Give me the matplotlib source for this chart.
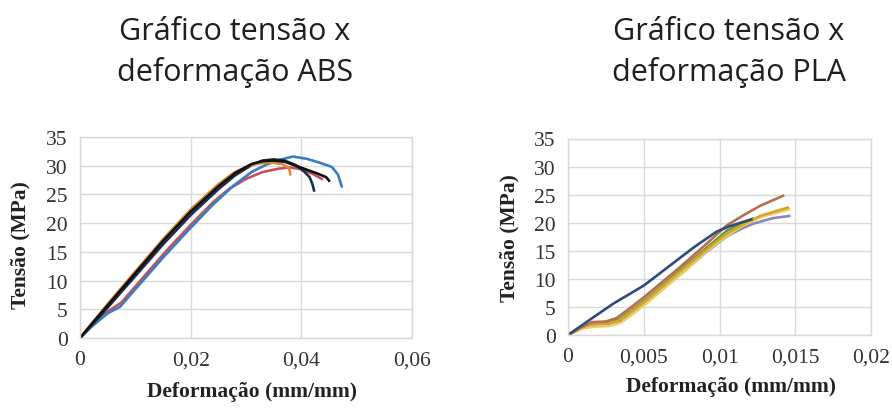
import matplotlib
matplotlib.use("Agg")
import matplotlib.pyplot as plt

# ---------------- data ----------------
abs_xticks = [0, 0.02, 0.04, 0.06]
abs_xticklabels = ["0", "0,02", "0,04", "0,06"]
pla_xticks = [0, 0.005, 0.01, 0.015, 0.02]
pla_xticklabels = ["0", "0,005", "0,01", "0,015", "0,02"]
yticks = [0, 5, 10, 15, 20, 25, 30, 35]

# ABS curves
abs_blue_x = [0, 0.002, 0.005, 0.0072, 0.01, 0.015, 0.0198, 0.024, 0.0277, 0.031, 0.0337, 0.036, 0.0385, 0.041, 0.0434, 0.0455, 0.0466, 0.0473]
abs_blue_y = [0, 1.9, 4.3, 5.4, 8.5, 14.0, 19.0, 23.2, 26.5, 28.9, 30.2, 31.0, 31.6, 31.2, 30.5, 29.8, 28.5, 26.4]
abs_red_x = [0, 0.002, 0.005, 0.0075, 0.012, 0.016, 0.02, 0.024, 0.027, 0.030, 0.033, 0.036, 0.038, 0.040, 0.042, 0.0437]
abs_red_y = [0, 2.0, 4.6, 6.2, 11.2, 15.6, 19.7, 23.6, 26.0, 27.7, 28.9, 29.5, 29.7, 29.4, 28.6, 27.7]
abs_navy_x = [0, 0.002, 0.005, 0.01, 0.015, 0.02, 0.025, 0.028, 0.031, 0.033, 0.035, 0.037, 0.039, 0.0405, 0.0415, 0.0420, 0.0423]
abs_navy_y = [0, 2.1, 5.3, 10.8, 16.3, 21.4, 25.9, 28.3, 30.1, 30.9, 31.1, 30.9, 30.1, 29.0, 28.0, 26.8, 25.7]
abs_black_x = [0, 0.002, 0.005, 0.01, 0.015, 0.02, 0.025, 0.028, 0.031, 0.033, 0.035, 0.037, 0.039, 0.041, 0.043, 0.0445, 0.0450]
abs_black_y = [0, 2.3, 5.7, 11.3, 16.9, 22.0, 26.4, 28.7, 30.3, 30.8, 30.9, 30.7, 30.0, 29.3, 28.6, 28.0, 27.4]
abs_orange_x = [0, 0.002, 0.005, 0.01, 0.015, 0.02, 0.025, 0.028, 0.031, 0.034, 0.0365, 0.0378, 0.0380]
abs_orange_y = [0, 2.4, 5.9, 11.6, 17.2, 22.4, 26.8, 28.9, 30.2, 30.6, 30.3, 29.6, 28.5]

# PLA curves
pla_green_x = [0, 0.0008, 0.0016, 0.0025, 0.0033, 0.0042, 0.0052, 0.0075, 0.009, 0.0105, 0.0115, 0.0122]
pla_green_y = [0, 1.2, 2.1, 2.1, 2.7, 4.4, 6.5, 11.8, 15.2, 18.6, 19.9, 20.7]
pla_lav_x = [0, 0.0008, 0.0016, 0.0025, 0.0034, 0.0043, 0.0053, 0.0076, 0.009, 0.0105, 0.0115, 0.0122, 0.0135, 0.0146]
pla_lav_y = [0, 1.1, 1.8, 1.8, 2.3, 4.0, 6.1, 11.2, 14.5, 17.6, 19.0, 19.8, 20.8, 21.2]
pla_lyel_x = [0, 0.001, 0.0018, 0.0027, 0.0035, 0.0044, 0.0054, 0.0076, 0.009, 0.0105, 0.0115, 0.0127, 0.0146]
pla_lyel_y = [0, 1.2, 1.5, 1.6, 2.2, 4.0, 6.1, 11.2, 14.6, 17.7, 19.4, 21.0, 22.4]
pla_gold_x = [0, 0.0008, 0.0016, 0.0025, 0.0033, 0.0042, 0.0052, 0.0075, 0.009, 0.01047, 0.0115, 0.01267, 0.0145]
pla_gold_y = [0, 1.2, 2.0, 2.0, 2.5, 4.2, 6.3, 11.5, 14.9, 18.0, 19.6, 21.2, 22.7]
pla_brown_x = [0, 0.0008, 0.0016, 0.0025, 0.0032, 0.004, 0.005, 0.0074, 0.009, 0.01047, 0.0115, 0.01267, 0.0142]
pla_brown_y = [0, 1.3, 2.3, 2.4, 3.0, 4.6, 6.7, 12.1, 15.9, 19.5, 21.2, 23.0, 24.8]
pla_navy_x = [0, 0.0008, 0.0017, 0.003, 0.005, 0.0083, 0.0098, 0.0106, 0.0114, 0.0121]
pla_navy_y = [0, 1.5, 3.2, 5.6, 8.8, 15.6, 18.4, 19.3, 20.0, 20.6]

# ---------------- figure ----------------
fig = plt.figure(figsize=(8.92, 4.10), dpi=100)
fig.patch.set_facecolor("white")

serif = ["Liberation Serif", "DejaVu Serif"]
grid_c = "#d9d9d9"
lw = 1.9


def style(ax, xticks, xticklabels, xmax):
    ax.set_xlim(0, xmax)
    ax.set_ylim(0, 35)
    ax.set_xticks(xticks)
    ax.set_xticklabels(xticklabels, family=serif, fontsize=15.5, color="#333333")
    ax.set_yticks(yticks)
    ax.set_yticklabels([str(v) for v in yticks], family=serif, fontsize=15.5, color="#333333")
    ax.tick_params(length=0, pad=9)
    ax.grid(True, color=grid_c, lw=1.0)
    ax.set_axisbelow(True)
    for s in ax.spines.values():
        s.set_color(grid_c)
        s.set_linewidth(1.0)


# ABS
ax1 = fig.add_axes([80 / 892, 1 - 339 / 410, 332 / 892, 201 / 410])
ax1.plot(abs_red_x, abs_red_y, color="#c8505a", lw=lw)
ax1.plot(abs_blue_x, abs_blue_y, color="#3b7dc0", lw=lw)
ax1.plot(abs_navy_x, abs_navy_y, color="#1d2f4f", lw=lw)
ax1.plot(abs_orange_x, abs_orange_y, color="#e0873a", lw=lw)
ax1.plot(abs_black_x, abs_black_y, color="#111111", lw=lw)
style(ax1, abs_xticks, abs_xticklabels, 0.06)
ax1.set_xlabel("Deformação (mm/mm)", family=serif, fontsize=15.5, fontweight="bold",
               color="#222222", va="center")
ax1.xaxis.set_label_coords((252 - 80) / 332, (339 - 392) / 201)
ax1.set_ylabel("Tensão (MPa)", family=serif, fontsize=15.5, fontweight="bold",
               color="#222222", va="center")
ax1.yaxis.set_label_coords((20 - 80) / 332, (339 - 245) / 201)

# PLA
ax2 = fig.add_axes([568 / 892, 1 - 336 / 410, 303 / 892, 196.5 / 410])
ax2.plot(pla_green_x, pla_green_y, color="#6a9a3a", lw=lw)
ax2.plot(pla_lav_x, pla_lav_y, color="#8c86b5", lw=lw)
ax2.plot(pla_lyel_x, pla_lyel_y, color="#e8cf6a", lw=lw)
ax2.plot(pla_gold_x, pla_gold_y, color="#d4a72c", lw=lw)
ax2.plot(pla_brown_x, pla_brown_y, color="#b5704f", lw=lw)
ax2.plot(pla_navy_x, pla_navy_y, color="#2f4b7c", lw=lw)
style(ax2, pla_xticks, pla_xticklabels, 0.02)
ax2.set_xlabel("Deformação (mm/mm)", family=serif, fontsize=15.5, fontweight="bold",
               color="#222222", va="center")
ax2.xaxis.set_label_coords((731 - 568) / 303, (336 - 387) / 196.5)
ax2.set_ylabel("Tensão (MPa)", family=serif, fontsize=15.5, fontweight="bold",
               color="#222222", va="center")
ax2.yaxis.set_label_coords((509 - 568) / 303, (336 - 238) / 196.5)

# Titles
tfont = ["Open Sans", "DejaVu Sans"]
for cx, l1, l2 in [(235, "Gráfico tensão x", "deformação ABS"),
                   (729, "Gráfico tensão x", "deformação PLA")]:
    fig.text(cx / 892, 1 - 40 / 410, l1, ha="center", va="baseline",
             family=tfont, fontsize=22, color="#1f1f1f")
    fig.text(cx / 892, 1 - 81 / 410, l2, ha="center", va="baseline",
             family=tfont, fontsize=22, color="#1f1f1f")

fig.savefig("out.png", dpi=100, facecolor="white")
